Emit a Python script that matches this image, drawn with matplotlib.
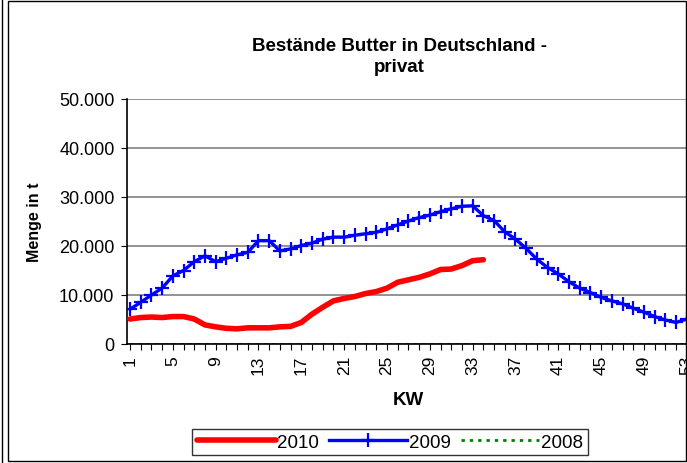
#!/usr/bin/env python3

import matplotlib
matplotlib.use("Agg")
import matplotlib.pyplot as plt
from matplotlib.patches import Rectangle
from matplotlib.lines import Line2D
from matplotlib.ticker import FuncFormatter
import numpy as np

plt.rcParams['font.family'] = ['Liberation Sans', 'DejaVu Sans']

# Kalenderwochen
weeks = np.arange(1, 54)

# Bestand 2010 (t), bis KW 34
y2010 = [5100, 5400, 5500, 5400, 5600, 5600, 5100, 3900, 3500, 3200,
         3100, 3300, 3300, 3300, 3500, 3600, 4400, 6100, 7500, 8800,
         9300, 9700, 10300, 10700, 11400, 12600, 13100, 13600, 14300, 15200,
         15300, 16000, 17000, 17200]

# Bestand 2009 (t)
y2009 = [7100, 8500, 10000, 11400, 13900, 15000, 16800, 18000, 16800, 17500,
         18200, 18700, 21100, 21100, 19000, 19400, 20100, 20600, 21400, 21800,
         21800, 22200, 22500, 22800, 23500, 24300, 25100, 25800, 26300, 27000,
         27600, 28100, 28200, 26200, 25200, 22900, 21400, 19500, 17300, 15600,
         14300, 12700, 11400, 10500, 9500, 8800, 8200, 7300, 6500, 5600,
         4900, 4400, 5100]

# 2008: keine Werte (Linie auf 0)
y2008 = [0] * 53

fig = plt.figure(figsize=(6.87, 4.64), dpi=100)

# outer frame of the chart area (double line on the left)
fig.patches.append(Rectangle((8/687, 2/464), 678/687, 460/464, transform=fig.transFigure,
                             fill=False, edgecolor='black', lw=1.0))
fig.add_artist(Line2D([2/687, 2/687], [0, 1], transform=fig.transFigure, color='black', lw=1.0))

ax = fig.add_axes([127/687, 119/464, 563/687, 245/464])

ax.plot(weeks[:len(y2008)], y2008, color='#008000', lw=2.0, ls=(0, (1.2, 1.8)), label='2008', zorder=2)
ax.plot(weeks[:len(y2009)], y2009, color='#0000ff', lw=2.4, marker='+', ms=10, mew=1.6,
        label='2009', zorder=3)
ax.plot(weeks[:len(y2010)], y2010, color='#ff0000', lw=4.0, solid_capstyle='round',
        label='2010', zorder=4)

ax.set_xlim(0.72, 53.3)
ax.set_ylim(0, 50000)
ax.set_yticks(np.arange(0, 50001, 10000))
ax.yaxis.set_major_formatter(FuncFormatter(lambda v, p: '{:,.0f}'.format(v).replace(',', '.')))
ax.grid(axis='y', color='#808080', lw=1.2)
ax.set_axisbelow(True)

ax.set_xticks(np.arange(1, 54, 4))
ax.set_xticks(weeks, minor=True)
ax.set_xticklabels([str(w) for w in range(1, 54, 4)], rotation=90)
ax.tick_params(axis='x', which='both', direction='out', length=4, width=0.8, pad=4)
ax.tick_params(axis='y', direction='out', length=4, width=0.8, labelsize=13, pad=5)
ax.tick_params(axis='x', labelsize=12.5)

for s in ['top', 'right']:
    ax.spines[s].set_visible(False)
ax.spines['left'].set_linewidth(1.2)
ax.spines['bottom'].set_linewidth(1.2)

ax.set_ylabel('Menge in t', fontsize=11.5, fontweight='bold')
ax.yaxis.set_label_coords(-0.151, 0.5)
ax.set_xlabel('KW', fontsize=13.5, fontweight='bold', labelpad=12)

fig.text(399/687, 1 - 57/464, 'Bestände Butter in Deutschland -\nprivat', ha='center', va='center',
         fontsize=13.5, fontweight='bold', linespacing=1.3)

handles, labels = ax.get_legend_handles_labels()
order = [2, 1, 0]
leg = fig.legend([handles[i] for i in order], [labels[i] for i in order],
                 loc='center', bbox_to_anchor=(390/687, 1 - 443/464), ncol=3,
                 fontsize=13.5, frameon=True, fancybox=False, handlelength=4.2,
                 handletextpad=0.1, columnspacing=0.5, borderpad=0.25)
leg.get_frame().set_edgecolor('black')
leg.get_frame().set_linewidth(1.0)

fig.savefig('out.png', dpi=100)
